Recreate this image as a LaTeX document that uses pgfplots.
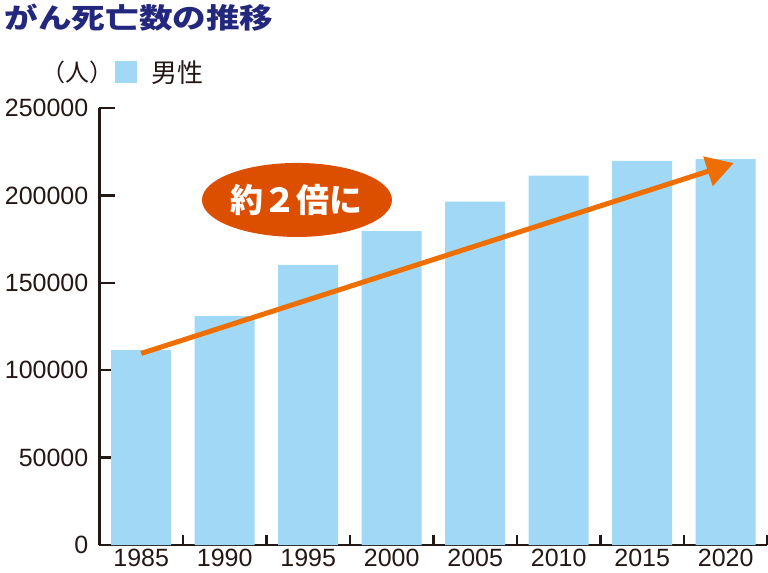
\documentclass[border=0pt]{standalone}
\usepackage{pgfplots}
\pgfplotsset{compat=1.18}
\usepackage{fontspec}
\setmainfont{Liberation Sans}
\newfontfamily\jp{Noto Sans CJK JP}
\newfontfamily\jptitle[FakeStretch=1.2]{Noto Sans CJK JP}
\usetikzlibrary{arrows.meta,shapes.geometric}
\definecolor{barblue}{RGB}{160,216,245}
\definecolor{axisdark}{RGB}{35,24,21}
\definecolor{titlenavy}{RGB}{35,40,125}
\definecolor{ellred}{RGB}{220,78,0}
\definecolor{arroworange}{RGB}{238,110,0}
\begin{document}
\begin{tikzpicture}
\path[use as bounding box] (-99.5bp,-28bp) rectangle (668.5bp,545bp);
\begin{axis}[
  at={(0,0)}, anchor=south west,
  scale only axis, width=668bp, height=437bp,
  xmin=-0.5, xmax=7.5, ymin=0, ymax=250000,
  axis x line=bottom, axis y line=left,
  axis line style={-, line width=2.5bp, draw=axisdark},
  clip=false,
  xtick={0,...,7},
  xticklabels={1985,1990,1995,2000,2005,2010,2015,2020},
  minor xtick={0.5,1.5,...,7.5},
  major x tick style={draw=none},
  ytick={0,50000,100000,150000,200000,250000},
  yticklabels={0,50000,100000,150000,200000,250000},
  scaled y ticks=false,
  tick align=inside,
  major tick length=16bp, minor tick length=10bp,
  tick style={line width=2.5bp, draw=axisdark},
  ticklabel style={font=\fontsize{25bp}{25bp}\selectfont, text=axisdark},
  yticklabel style={inner sep=0pt, xshift=-11bp},
  xticklabel style={inner sep=0pt, yshift=-4bp},
  legend style={at={(axis description cs:0.0225,1.0824)}, anchor=west,
    draw=none, fill=none, inner sep=0pt, column sep=13bp,
    font=\jp\fontsize{26bp}{26bp}\selectfont, text=axisdark},
]
\addplot[ybar, bar width=60bp, fill=barblue, draw=none,
  legend image code/.code={\fill[barblue] (0bp,-11bp) rectangle (22bp,11bp);}]
  coordinates {(0,111500) (1,131000) (2,160200) (3,179600) (4,196400) (5,211300) (6,219700) (7,220800)};
\addlegendentry{男性}
\addplot[forget plot, arroworange, line width=5bp, -{Triangle[length=27bp,width=30bp]}]
  coordinates {(0,109600) (7.095,218500)};
\node[ellipse, fill=ellred, minimum width=190bp, minimum height=74bp, inner sep=0pt,
  text=white, font=\jp\bfseries\fontsize{33bp}{33bp}\selectfont]
  at (axis cs:1.865,197400) {約２倍に};
\end{axis}
\node[anchor=west, inner sep=0pt, text=titlenavy,
  font=\jptitle\bfseries\fontsize{28bp}{28bp}\selectfont] at (-95bp,527bp) {がん死亡数の推移};
\node[inner sep=0pt, text=axisdark, font=\jp\fontsize{24bp}{24bp}\selectfont]
  at (-21.5bp,473bp) {（人）};
\end{tikzpicture}
\end{document}
